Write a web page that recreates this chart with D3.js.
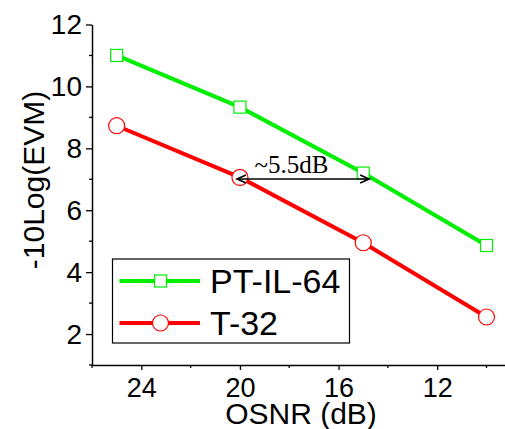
<!DOCTYPE html>
<html>
<head>
<meta charset="utf-8">
<script src="https://cdn.jsdelivr.net/npm/d3@7"></script>
<style>
  html, body { margin: 0; padding: 0; background: #fff; }
  svg { display: block; font-family: "Liberation Sans", Arial, Helvetica, sans-serif; }
</style>
</head>
<body>
<div id="chart"></div>
<script>
// data
const osnr = [25, 20, 15, 10];
const ptil64 = [11.0, 9.33, 7.2, 4.86];
const t32 = [8.73, 7.06, 4.95, 2.55];
const seriesNames = ["PT-IL-64", "T-32"];

const xMajor = [24, 20, 16, 12];
const xMinor = [26, 22, 18, 14, 10];
const yMajor = [2, 4, 6, 8, 10, 12];
const yMinor = [1, 3, 5, 7, 9, 11];

// the ~5.5dB arrow (data coords)
const arrowX = [20.12, 14.76];
const arrowY = 7.01;
const arrowLabel = "~5.5dB";

const width = 505;
const height = 429;

const svg = d3.select("#chart").append("svg")
  .attr("width", width)
  .attr("height", height);

const x = d3.scaleLinear().domain([26, 9.25]).range([92, 505]);
const y = d3.scaleLinear().domain([1, 12]).range([365, 24.5]);

// axes
const xAxis = d3.axisBottom(x).tickValues(xMajor).tickSize(5).tickPadding(8).tickSizeOuter(0);
const yAxis = d3.axisLeft(y).tickValues(yMajor).tickSize(6).tickPadding(4).tickSizeOuter(0);

const gx = svg.append("g").attr("transform", `translate(0,${y(1)})`).call(xAxis);
const gy = svg.append("g").attr("transform", `translate(${x(26)},0)`).call(yAxis);

[gx, gy].forEach(g => {
  g.attr("font-family", null).attr("font-size", null);
  g.select(".domain").attr("stroke", "#000").attr("stroke-width", 1.5);
  g.selectAll(".tick line").attr("stroke", "#000").attr("stroke-width", 1.3);
  g.selectAll(".tick text").attr("fill", "#000");
});
gx.selectAll(".tick text").attr("font-size", 27);
gy.selectAll(".tick text").attr("font-size", 28);

// minor ticks
gx.selectAll(".minor").data(xMinor).join("line")
  .attr("class", "minor")
  .attr("x1", d => x(d)).attr("x2", d => x(d))
  .attr("y1", 0).attr("y2", 3)
  .attr("stroke", "#000").attr("stroke-width", 1.3);
gy.selectAll(".minor").data(yMinor).join("line")
  .attr("class", "minor")
  .attr("y1", d => y(d)).attr("y2", d => y(d))
  .attr("x1", 0).attr("x2", -3)
  .attr("stroke", "#000").attr("stroke-width", 1.3);

// axis titles
svg.append("text")
  .attr("x", 301).attr("y", 424)
  .attr("text-anchor", "middle")
  .attr("font-size", 30)
  .text("OSNR (dB)");

svg.append("text")
  .attr("transform", `translate(43.5,180) rotate(-90)`)
  .attr("text-anchor", "middle")
  .attr("font-size", 30)
  .text("-10Log(EVM)");

// series
const green = "#00ee00";
const red = "#ff0000";
const line = d3.line().x(d => x(d[0])).y(d => y(d[1]));

const gData = osnr.map((o, i) => [o, ptil64[i]]);
const rData = osnr.map((o, i) => [o, t32[i]]);

svg.append("path").datum(gData).attr("d", line)
  .attr("fill", "none").attr("stroke", green).attr("stroke-width", 4);
svg.append("path").datum(rData).attr("d", line)
  .attr("fill", "none").attr("stroke", red).attr("stroke-width", 4);

svg.selectAll(".sq").data(gData).join("rect")
  .attr("class", "sq")
  .attr("x", d => x(d[0]) - 6).attr("y", d => y(d[1]) - 6)
  .attr("width", 12).attr("height", 12)
  .attr("fill", "#fff").attr("stroke", green).attr("stroke-width", 1.2);

svg.selectAll(".ci").data(rData).join("circle")
  .attr("class", "ci")
  .attr("cx", d => x(d[0])).attr("cy", d => y(d[1]))
  .attr("r", 8)
  .attr("fill", "#fff").attr("stroke", red).attr("stroke-width", 1.2);

// arrow annotation
const ax0 = x(arrowX[0]), ax1 = x(arrowX[1]), ay = y(arrowY);
svg.append("line")
  .attr("x1", ax0).attr("x2", ax1).attr("y1", ay).attr("y2", ay)
  .attr("stroke", "#000").attr("stroke-width", 1.5);
svg.append("path")
  .attr("d", `M${ax0 + 9},${ay - 4} L${ax0},${ay} L${ax0 + 9},${ay + 4}`)
  .attr("fill", "none").attr("stroke", "#000").attr("stroke-width", 1.6);
svg.append("path")
  .attr("d", `M${ax1 - 9},${ay - 4} L${ax1},${ay} L${ax1 - 9},${ay + 4}`)
  .attr("fill", "none").attr("stroke", "#000").attr("stroke-width", 1.6);
svg.append("text")
  .attr("x", 291.5).attr("y", ay - 5.5)
  .attr("text-anchor", "middle")
  .attr("font-family", "'Liberation Serif', 'Times New Roman', serif")
  .attr("font-size", 25)
  .text(arrowLabel);

// legend
const legend = svg.append("g");
legend.append("rect")
  .attr("x", 112.5).attr("y", 259).attr("width", 237).attr("height", 84)
  .attr("fill", "#fff").attr("stroke", "#000").attr("stroke-width", 1.2);

const legendRows = [
  { name: seriesNames[0], color: green, shape: "square", cy: 281 },
  { name: seriesNames[1], color: red, shape: "circle", cy: 323 },
];
legendRows.forEach(r => {
  legend.append("line")
    .attr("x1", 119.5).attr("x2", 200).attr("y1", r.cy).attr("y2", r.cy)
    .attr("stroke", r.color).attr("stroke-width", 4);
  if (r.shape === "square") {
    legend.append("rect")
      .attr("x", 160.5 - 6).attr("y", r.cy - 6).attr("width", 12).attr("height", 12)
      .attr("fill", "#fff").attr("stroke", r.color).attr("stroke-width", 1.2);
  } else {
    legend.append("circle")
      .attr("cx", 160.5).attr("cy", r.cy).attr("r", 8)
      .attr("fill", "#fff").attr("stroke", r.color).attr("stroke-width", 1.2);
  }
  legend.append("text")
    .attr("x", 210).attr("y", r.cy + 12)
    .attr("font-size", 34)
    .text(r.name);
});
</script>
</body>
</html>
